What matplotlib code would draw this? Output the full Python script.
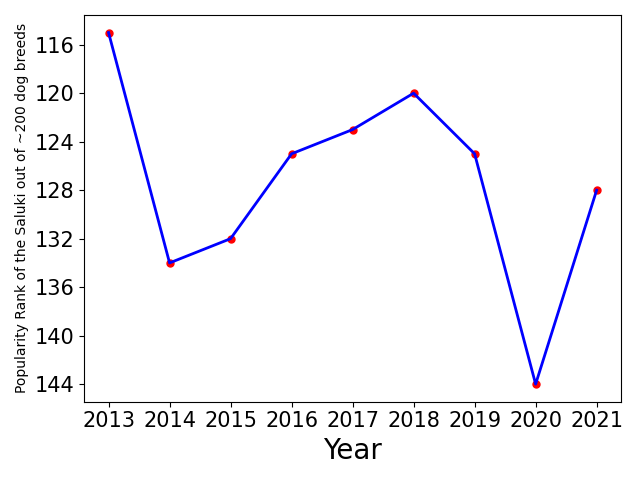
import matplotlib
matplotlib.use("Agg")
import matplotlib.pyplot as plt

years = [2013, 2014, 2015, 2016, 2017, 2018, 2019, 2020, 2021]
ranks = [115, 134, 132, 125, 123, 120, 125, 144, 128]

fig, ax = plt.subplots(figsize=(6.4, 4.8), dpi=100)
ax.scatter(years, ranks, color="red", s=25, zorder=2)
ax.plot(years, ranks, color="blue", linewidth=2, zorder=3)
ax.invert_yaxis()
ax.set_yticks(range(116, 145, 4))
ax.set_xticks(years)
ax.tick_params(labelsize=15)
ax.set_xlabel("Year", fontsize=20)
ax.set_ylabel("Popularity Rank of the Saluki out of ~200 dog breeds", fontsize=10)
fig.tight_layout()
fig.savefig("out.png")
